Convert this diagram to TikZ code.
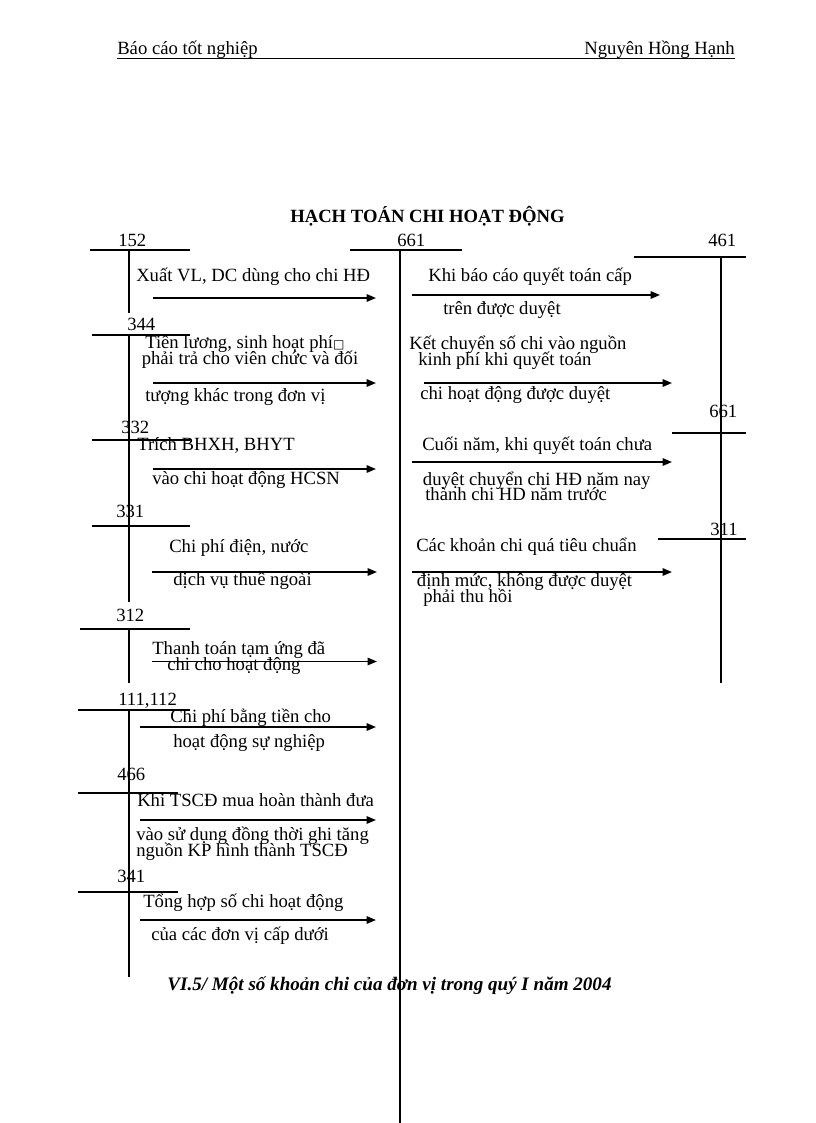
\documentclass[tikz,border=0pt]{standalone}
\usepackage{fontspec}
\setmainfont{Liberation Serif}
\newfontfamily\symfont{DejaVu Sans}
\usetikzlibrary{arrows.meta}
\begin{document}
\begin{tikzpicture}[x=0.75pt,y=-0.75pt,
  txt/.style={anchor=base west,inner sep=0pt,font=\fontsize{14}{16}\selectfont},
  num/.style={anchor=base west,inner sep=0pt,font=\fontsize{14}{16}\selectfont},
  acc/.style={line width=0.9pt},
  accv/.style={line width=1.1pt},
  flow/.style={line width=1.3pt,-{Triangle[length=7pt,width=5.5pt]}}]
\useasboundingbox[fill=white] (0,0) rectangle (816,1123);

% header
\node[txt] (h1) at (117,55) {Báo cáo tốt nghiệp};
\node[txt,anchor=base east] (h2) at (735,55) {Nguyên Hồng Hạnh};
\coordinate (ul1) at (117,58.5); \coordinate (ul2) at (735,58.5);
\draw[line width=0.8pt] (ul1) -- (ul2);

% title
\node[txt,anchor=base,font=\fontsize{14}{16}\selectfont\bfseries] (title) at (427.5,222.7) {HẠCH TOÁN CHI HOẠT ĐỘNG};

% ---------- account T lines ----------
% left column
\node[num] (n152) at (118,246.7) {152};
\draw[acc] (90,250) -- (190,250);
\draw[accv] (129,250) -- (129,313);
\node[num] (n344) at (127,330.7) {344};
\draw[acc] (92,335) -- (190,335);
\draw[accv] (129,335) -- (129,602);
\node[num] (n332) at (121,433) {332};
\draw[acc] (92,440) -- (190,440);
\node[num] (n331) at (116,517) {331};
\draw[acc] (92,526) -- (190,526);
\node[num] (n312) at (116,621) {312};
\draw[acc] (80,629) -- (190,629);
\draw[accv] (129,629) -- (129,683);
\node[num] (n111) at (118,705) {111,112};
\draw[acc] (78,710) -- (190,710);
\draw[accv] (129,710) -- (129,977);
\node[num] (n466) at (117,780) {466};
\draw[acc] (78,793) -- (178,793);
\node[num] (n341) at (117,882) {341};
\draw[acc] (78,892) -- (178,892);

% centre 661
\node[num] (n661) at (397,246.7) {661};
\draw[acc] (350,250) -- (462,250);
\draw[line width=1.4pt] (400,250) -- (400,1123);

% right column
\node[num] (n461) at (708,246.7) {461};
\draw[line width=1.4pt] (634,257) -- (746,257);
\draw[accv] (721,257) -- (721,683);
\node[num] (n661r) at (709,417) {661};
\draw[acc] (672,433) -- (746,433);
\node[num] (n311) at (710,535) {311};
\draw[acc] (658,539) -- (746,539);

% ---------- left texts ----------
\node[txt] (l1) at (136,281.7) {Xuất VL, DC dùng cho chi HĐ};
\node[txt] (l2a) at (145,348) {Tiền lương, sinh hoạt phí{\symfont\fontsize{9}{10}\selectfont □}};
\node[txt] (l2b) at (141.5,364) {phải trả cho viên chức và đối};
\node[txt] (l2c) at (145,401) {tượng khác trong đơn vị};
\node[txt] (l3a) at (137,450.7) {Trích BHXH, BHYT};
\node[txt] (l3b) at (152,484) {vào chi hoạt động HCSN};
\node[txt] (l4a) at (169,552) {Chi phí điện, nước};
\node[txt] (l4b) at (173,585) {dịch vụ thuê ngoài};
\node[txt] (l5a) at (152,654) {Thanh toán tạm ứng đã};
\node[txt] (l5b) at (167,670) {chi cho hoạt động};
\node[txt] (l6a) at (170,722) {Chi phí bằng tiền cho};
\node[txt] (l6b) at (173,747) {hoạt động sự nghiệp};
\node[txt] (l7a) at (137,806) {Khi TSCĐ mua hoàn thành đưa};
\node[txt] (l7b) at (136,840) {vào sử dụng đồng thời ghi tăng};
\node[txt] (l7c) at (136,856) {nguồn KP hình thành TSCĐ};
\node[txt] (l8a) at (143,907) {Tổng hợp số chi hoạt động};
\node[txt] (l8b) at (151,940) {của các đơn vị cấp dưới};

% ---------- right texts ----------
\node[txt] (r1a) at (428,281.7) {Khi báo cáo quyết toán cấp};
\node[txt] (r1b) at (443,314) {trên được duyệt};
\node[txt] (r2a) at (409,349) {Kết chuyển số chi vào nguồn};
\node[txt] (r2b) at (418,365) {kinh phí khi quyết toán};
\node[txt] (r2c) at (420,399) {chi hoạt động được duyệt};
\node[txt] (r3a) at (422,450.7) {Cuối năm, khi quyết toán chưa};
\node[txt] (r3b) at (422.7,485) {duyệt chuyển chi HĐ năm nay};
\node[txt] (r3c) at (425,500.7) {thành chi HD năm trước};
\node[txt] (r4a) at (416,551.7) {Các khoản chi quá tiêu chuẩn};
\node[txt] (r4b) at (416.7,586.7) {định mức, không được duyệt};
\node[txt] (r4c) at (423,602) {phải thu hồi};

% ---------- arrows ----------
\coordinate (a1s) at (153,298); \coordinate (a1e) at (376,298);
\coordinate (a2s) at (153,383); \coordinate (a2e) at (376,383);
\coordinate (a3s) at (153,469); \coordinate (a3e) at (376,469);
\coordinate (a4s) at (152,572); \coordinate (a4e) at (377,572);
\coordinate (a5s) at (152,661.5); \coordinate (a5e) at (377,661.5);
\coordinate (a6s) at (140,727); \coordinate (a6e) at (376,727);
\coordinate (a7s) at (140,820); \coordinate (a7e) at (376,820);
\coordinate (a8s) at (140,920); \coordinate (a8e) at (376,920);
\coordinate (b1s) at (412,295); \coordinate (b1e) at (660,295);
\coordinate (b2s) at (424,383); \coordinate (b2e) at (672,383);
\coordinate (b3s) at (412,462); \coordinate (b3e) at (672,462);
\coordinate (b4s) at (412,572); \coordinate (b4e) at (672,572);
\foreach \p in {a1,a2,a3,a4,a5,a6,a7,a8,b1,b2,b3,b4}
  \draw[flow] (\p s) -- (\p e);

% caption
\node[txt,anchor=base,font=\fontsize{14.3}{16}\selectfont\bfseries\itshape] (cap) at (389.5,990) {VI.5/ Một số khoản chi của đơn vị trong quý I năm 2004};
\end{tikzpicture}
\end{document}
